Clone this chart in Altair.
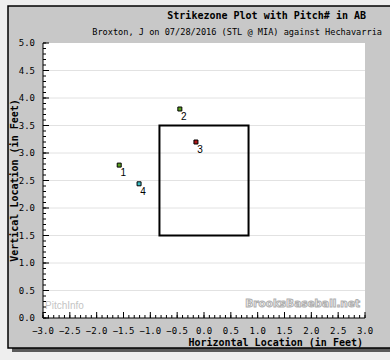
import altair as alt
import pandas as pd
import numpy as np

# ---- data ----
pitch_num = [1, 2, 3, 4]
plate_x = [-1.58, -0.45, -0.15, -1.21]
plate_z = [2.78, 3.80, 3.20, 2.44]
pitch_color = ["#5aa01e", "#5aa01e", "#b01818", "#3cc0c8"]

sz_left, sz_right = -0.83, 0.83
sz_bottom, sz_top = 1.5, 3.5

x_tick_labels = [-3.0, -2.5, -2.0, -1.5, -1.0, -0.5, 0.0, 0.5, 1.0, 1.5, 2.0, 2.5, 3.0]
y_tick_labels = [0.0, 0.5, 1.0, 1.5, 2.0, 2.5, 3.0, 3.5, 4.0, 4.5, 5.0]
grid_y = [0.5, 1.0, 1.5, 2.0, 2.5, 3.0, 3.5, 4.0, 4.5]

title_text = "Strikezone Plot with Pitch# in AB"
subtitle_text = "Broxton, J on 07/28/2016 (STL @ MIA) against Hechavarria"
x_title = "Horizontal Location (in Feet)"
y_title = "Vertical Location (in Feet)"

W, H = 322, 275
MONO = "DejaVu Sans Mono"

pts = pd.DataFrame({"n": pitch_num, "px": plate_x, "pz": plate_z, "c": pitch_color})
zone = pd.DataFrame({"x1": [sz_left], "x2": [sz_right], "y1": [sz_bottom], "y2": [sz_top]})

xs = alt.Scale(domain=[-3, 3], nice=False, zero=False)
ys = alt.Scale(domain=[0, 5], nice=False, zero=False)

one = alt.Data(values=[{"a": 1}])

shadow = alt.Chart(one).mark_rect(fill="#5a5a5a").encode(
    x=alt.value(-31), x2=alt.value(360), y=alt.value(-33), y2=alt.value(309))
panel = alt.Chart(one).mark_rect(fill="#c8c8c8", stroke="#000000", strokeWidth=1.5).encode(
    x=alt.value(-35), x2=alt.value(360), y=alt.value(-37), y2=alt.value(305))
white = alt.Chart(one).mark_rect(fill="#ffffff").encode(
    x=alt.value(0), x2=alt.value(W), y=alt.value(0), y2=alt.value(H))

grid = alt.Chart(pd.DataFrame({"g": grid_y})).mark_rule(color="#e2e2e2", strokeWidth=1).encode(
    y=alt.Y("g:Q", scale=ys, axis=None), x=alt.value(0), x2=alt.value(W))

wm1 = alt.Chart(one).mark_text(text="PitchInfo", font="Liberation Sans", fontSize=10,
                               color="#c4c4c4", align="left", baseline="middle").encode(
    x=alt.value(2), y=alt.value(263))
wm2 = alt.Chart(one).mark_text(text="BrooksBaseball.net", font="DejaVu Sans", fontSize=10.5,
                               fontWeight="bold", fill="#ffffff", stroke="#b0b0b0", strokeWidth=1,
                               align="right", baseline="middle").encode(
    x=alt.value(W - 5), y=alt.value(261))

zone_rect = alt.Chart(zone).mark_rect(fill=None, stroke="#000000", strokeWidth=2).encode(
    x=alt.X("x1:Q", scale=xs, axis=None), x2="x2:Q",
    y=alt.Y("y1:Q", scale=ys, axis=None), y2="y2:Q")

points = alt.Chart(pts).mark_point(shape="square", filled=True, size=16, stroke="#000000",
                                   strokeWidth=1, opacity=1).encode(
    x=alt.X("px:Q", scale=xs, axis=None),
    y=alt.Y("pz:Q", scale=ys, axis=None),
    color=alt.Color("c:N", scale=None))

labels = alt.Chart(pts).mark_text(font="Liberation Sans", fontSize=10, color="#000000",
                                  align="center", baseline="middle", dx=4, dy=8).encode(
    x=alt.X("px:Q", scale=xs, axis=None), y=alt.Y("pz:Q", scale=ys, axis=None),
    text="n:N")

y_minor = [round(v, 1) for v in np.arange(0, 5.01, 0.1)]
x_minor = [round(v, 1) for v in np.arange(-3, 3.01, 0.1)]

ytm = alt.Chart(pd.DataFrame({"t": y_minor})).mark_rule(color="#000000", strokeWidth=1).encode(
    y=alt.Y("t:Q", scale=ys, axis=None), x=alt.value(0), x2=alt.value(3))
ytM = alt.Chart(pd.DataFrame({"t": y_tick_labels})).mark_rule(color="#000000", strokeWidth=1).encode(
    y=alt.Y("t:Q", scale=ys, axis=None), x=alt.value(0), x2=alt.value(6))
xtm = alt.Chart(pd.DataFrame({"t": x_minor})).mark_rule(color="#000000", strokeWidth=1).encode(
    x=alt.X("t:Q", scale=xs, axis=None), y=alt.value(H), y2=alt.value(H - 3))
xtM = alt.Chart(pd.DataFrame({"t": x_tick_labels})).mark_rule(color="#000000", strokeWidth=1).encode(
    x=alt.X("t:Q", scale=xs, axis=None), y=alt.value(H), y2=alt.value(H - 6))

# axis lines
x_dom = alt.Chart(one).mark_rule(color="#000000", strokeWidth=1).encode(
    x=alt.value(0), x2=alt.value(W), y=alt.value(H))
y_dom = alt.Chart(one).mark_rule(color="#000000", strokeWidth=1).encode(
    x=alt.value(0), y=alt.value(0), y2=alt.value(H))

# axis labels
x_lab = alt.Chart(pd.DataFrame({"t": x_tick_labels})).mark_text(
    font=MONO, fontSize=9, color="#000000", align="center", baseline="middle").encode(
    x=alt.X("t:Q", scale=xs, axis=None), y=alt.value(H + 12.5),
    text=alt.Text("t:Q", format=".1f"))
y_lab = alt.Chart(pd.DataFrame({"t": y_tick_labels})).mark_text(
    font=MONO, fontSize=9, color="#000000", align="right", baseline="middle").encode(
    y=alt.Y("t:Q", scale=ys, axis=None), x=alt.value(-8),
    text=alt.Text("t:Q", format=".1f"))

x_ttl = alt.Chart(one).mark_text(text=x_title, font=MONO, fontSize=10, fontWeight="bold",
                                 color="#000000", align="right", baseline="middle").encode(
    x=alt.value(W - 2), y=alt.value(H + 24.5))
y_ttl = alt.Chart(one).mark_text(text=y_title, font=MONO, fontSize=10, fontWeight="bold",
                                 color="#000000", align="center", baseline="middle",
                                 angle=270).encode(
    x=alt.value(-28), y=alt.value(H / 2))

t1 = alt.Chart(one).mark_text(text=title_text, font=MONO, fontSize=10, fontWeight="bold",
                              color="#000000", align="right", baseline="middle").encode(
    x=alt.value(W + 1), y=alt.value(-27))
t2 = alt.Chart(one).mark_text(text=subtitle_text, font=MONO, fontSize=8.6,
                              color="#000000", align="right", baseline="middle").encode(
    x=alt.value(W + 17), y=alt.value(-11))

chart = alt.layer(
    shadow, panel, white, grid, wm1, wm2, zone_rect, ytm, ytM, xtm, xtM, x_dom, y_dom,
    x_lab, y_lab, x_ttl, y_ttl, points, labels, t1, t2
).properties(
    width=W, height=H,
    autosize=alt.AutoSizeParams(type="none"),
    padding={"left": 43, "top": 43, "right": 25, "bottom": 42},
    background="#eeeeee"
).configure_view(stroke=None, fill=None)

chart.save("out.html", embed_options={"renderer": "svg", "actions": False})
